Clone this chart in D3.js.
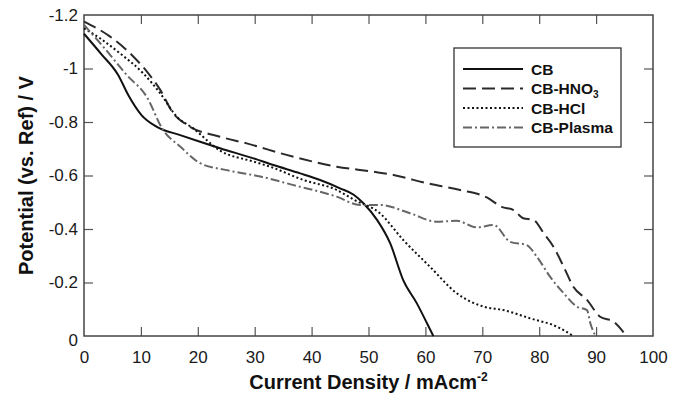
<!DOCTYPE html>
<html>
<head>
<meta charset="utf-8">
<script src="https://cdn.jsdelivr.net/npm/d3@7"></script>
<style>
  html, body { margin: 0; padding: 0; background: #fff; }
  svg { display: block; font-family: Arial, 'Liberation Sans', sans-serif; }
</style>
</head>
<body>
<div id="chart"></div>
<script>
const width = 678
const height = 397
const margin = { top: 15, right: 25, bottom: 61, left: 84 }

// data: [current density, potential]
const cb = [
  [0, -1.13], [3, -1.055], [6, -0.976], [7.8, -0.9], [10.1, -0.826], [12.8, -0.782],
  [16.9, -0.751], [20.4, -0.726], [23.9, -0.702], [29.8, -0.664], [33.3, -0.639],
  [38.0, -0.608], [41.5, -0.583], [45.0, -0.552], [47.4, -0.528], [49.1, -0.496],
  [51.5, -0.434], [53.8, -0.347], [56.1, -0.209], [58.5, -0.122], [60.3, -0.047], [61.4, 0]
]
const hno3 = [
  [0, -1.175], [4.6, -1.119], [8.7, -1.044], [11.3, -0.982], [13.4, -0.92],
  [15.7, -0.832], [18.1, -0.789], [23.9, -0.745], [28.6, -0.72], [35.6, -0.677],
  [44.4, -0.633], [50.9, -0.614], [54.4, -0.602], [60.3, -0.571], [66.1, -0.546],
  [70.8, -0.518], [73.4, -0.483], [75.5, -0.471], [77.2, -0.44], [79.0, -0.434],
  [80.8, -0.384], [82.5, -0.334], [84.3, -0.259], [86.0, -0.184], [88.4, -0.135],
  [90.7, -0.072], [93.1, -0.053], [95.3, 0]
]
const hcl = [
  [0, -1.15], [2.8, -1.113], [6.3, -1.057], [10.4, -0.982], [13.4, -0.907],
  [16.3, -0.82], [19.2, -0.776], [23.9, -0.693], [29.8, -0.652], [32.7, -0.633],
  [38.6, -0.583], [44.4, -0.546], [47.4, -0.51], [52.0, -0.459], [56.1, -0.359],
  [60.8, -0.259], [65.5, -0.16], [70.2, -0.11], [73.7, -0.097], [78.4, -0.066],
  [83.1, -0.035], [86.0, 0]
]
const plasma = [
  [0, -1.163], [3.4, -1.081], [7.5, -0.976], [11.0, -0.895], [13.9, -0.77],
  [16.9, -0.708], [20.4, -0.646], [25.1, -0.62], [31.0, -0.596], [36.5, -0.566],
  [44.4, -0.521], [48.5, -0.49], [52.0, -0.49], [57.3, -0.459], [62.0, -0.427],
  [65.5, -0.431], [69.0, -0.406], [72.0, -0.415], [74.9, -0.352], [77.8, -0.34],
  [79.6, -0.296], [81.9, -0.222], [84.3, -0.16], [86.6, -0.11], [88.4, -0.097],
  [89.0, -0.047], [89.9, 0]
]

const xTicks = [0, 10, 20, 30, 40, 50, 60, 70, 80, 90, 100]
const yTicks = [0, -0.2, -0.4, -0.6, -0.8, -1, -1.2]

const series = [
  { name: 'CB', sub: '', values: cb, color: '#111', dash: null },
  { name: 'CB-HNO', sub: '3', values: hno3, color: '#2a2a2a', dash: '13,6' },
  { name: 'CB-HCl', sub: '', values: hcl, color: '#111', dash: '2,2.5' },
  { name: 'CB-Plasma', sub: '', values: plasma, color: '#666', dash: '9,3,2,3' }
]

const svg = d3.select('#chart').append('svg')
  .attr('width', width)
  .attr('height', height)

const x = d3.scaleLinear().domain([0, 100]).range([margin.left, width - margin.right])
const y = d3.scaleLinear().domain([0, -1.2]).range([height - margin.bottom, margin.top])

// plain hyphen like the original, not the unicode minus
const fmtY = d => d === 0 ? '0' : String(+d.toFixed(1))

// axes with inward ticks
svg.append('g')
  .attr('transform', `translate(0,${y(0)})`)
  .call(d3.axisBottom(x).tickValues(xTicks).tickSize(-9).tickPadding(15).tickFormat(d3.format('d')))
  .call(g => g.select('.domain').remove())
  .call(g => g.selectAll('.tick line').filter(d => d === 0 || d === 100).remove())

svg.append('g')
  .attr('transform', `translate(${x(0)},0)`)
  .call(d3.axisLeft(y).tickValues(yTicks).tickSize(-9).tickPadding(6).tickFormat(fmtY))
  .call(g => g.select('.domain').remove())
  .call(g => g.selectAll('.tick line').filter(d => d === 0 || d === -1.2).remove())
  .call(g => g.selectAll('.tick').filter(d => d === 0).select('text').attr('dy', '0.55em'))

svg.append('g')
  .attr('transform', `translate(0,${y(-1.2)})`)
  .call(d3.axisTop(x).tickValues(xTicks.slice(1, -1)).tickSize(-9).tickFormat(''))
  .call(g => g.select('.domain').remove())

svg.append('g')
  .attr('transform', `translate(${x(100)},0)`)
  .call(d3.axisRight(y).tickValues(yTicks.slice(1, -1)).tickSize(-9).tickFormat(''))
  .call(g => g.select('.domain').remove())

svg.selectAll('.tick line').attr('stroke', '#555').attr('stroke-width', 1.2)
svg.selectAll('.tick text').attr('fill', '#1a1a1a').style('font-size', '17px')

// plot frame
svg.append('rect')
  .attr('x', x(0)).attr('y', y(-1.2))
  .attr('width', x(100) - x(0)).attr('height', y(0) - y(-1.2))
  .attr('fill', 'none').attr('stroke', '#444').attr('stroke-width', 1.5)

const line = d3.line().x(d => x(d[0])).y(d => y(d[1])).curve(d3.curveMonotoneX)

svg.append('g').selectAll('path')
  .data(series)
  .join('path')
  .attr('d', d => line(d.values))
  .attr('fill', 'none')
  .attr('stroke', d => d.color)
  .attr('stroke-width', 2)
  .attr('stroke-dasharray', d => d.dash)

// legend
const legend = svg.append('g').attr('transform', 'translate(454,48)')
legend.append('rect')
  .attr('width', 167).attr('height', 99)
  .attr('fill', '#fff').attr('stroke', '#333').attr('stroke-width', 1.3)

const rows = legend.selectAll('g.row')
  .data(series)
  .join('g')
  .attr('class', 'row')
  .attr('transform', (d, i) => `translate(0,${21 + i * 19.5})`)

rows.append('line')
  .attr('x1', 9).attr('x2', 69)
  .attr('stroke', d => d.color)
  .attr('stroke-width', 2)
  .attr('stroke-dasharray', d => d.dash)

const lt = rows.append('text')
  .attr('x', 77).attr('dy', '0.36em')
  .style('font-size', '15.5px').style('font-weight', 'bold')
  .attr('fill', '#111')
lt.append('tspan').text(d => d.name)
lt.filter(d => d.sub).append('tspan')
  .attr('dy', 4).style('font-size', '10px')
  .text(d => d.sub)

// axis titles
const xt = svg.append('text')
  .attr('x', (x(0) + x(100)) / 2).attr('y', 389)
  .attr('text-anchor', 'middle')
  .style('font-size', '20px').style('font-weight', 'bold').attr('fill', '#111')
xt.append('tspan').text('Current Density / mAcm')
xt.append('tspan').attr('dy', -8).style('font-size', '12px').text('-2')

svg.append('text')
  .attr('transform', `translate(33,${(y(0) + y(-1.2)) / 2}) rotate(-90)`)
  .attr('text-anchor', 'middle')
  .style('font-size', '20px').style('font-weight', 'bold').attr('fill', '#111')
  .text('Potential (vs. Ref) / V')
</script>
</body>
</html>
